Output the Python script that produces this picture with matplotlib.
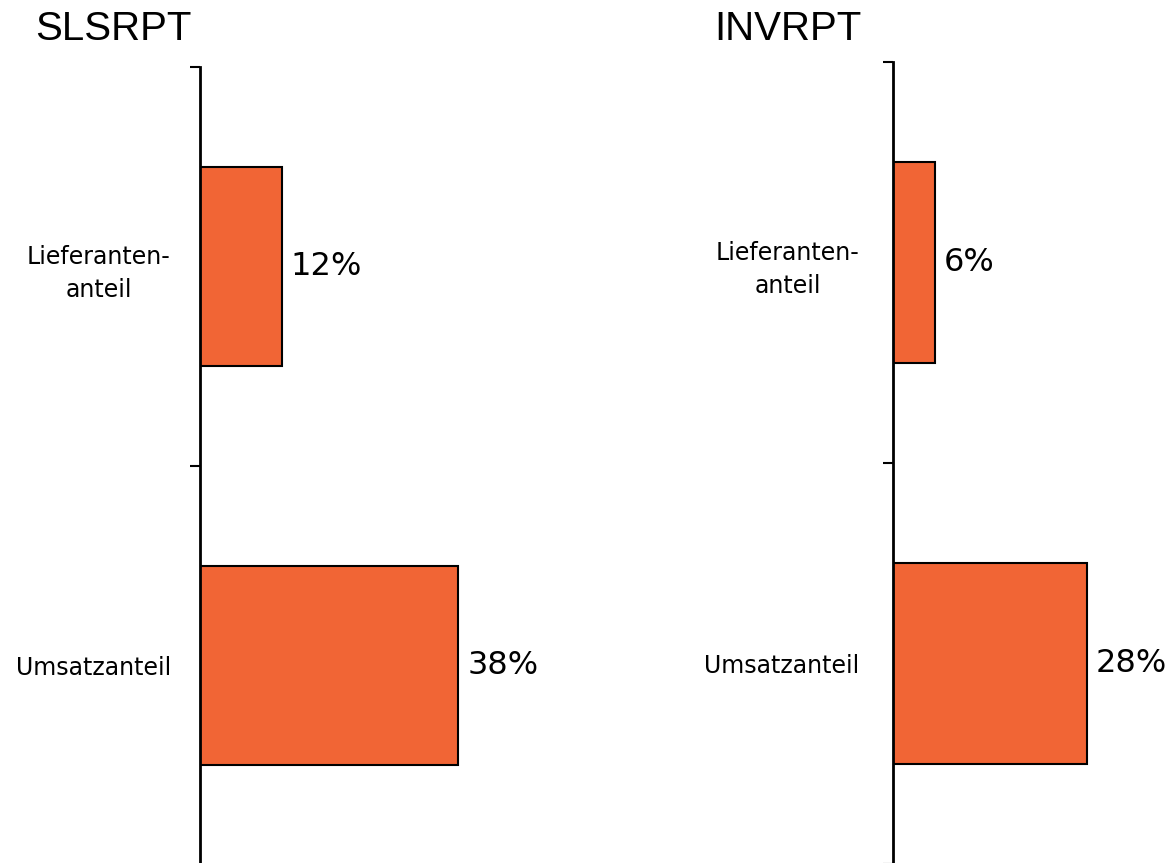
import matplotlib.pyplot as plt

# data
categories = ['Umsatzanteil', 'Lieferanten-\nanteil']
slsrpt_values = [38, 12]
invrpt_values = [28, 6]
titles = ['SLSRPT', 'INVRPT']

bar_color = '#F16535'
W, H = 1175, 863

fig = plt.figure(figsize=(W / 100, H / 100), dpi=100)


def panel(rect, values, title, title_x, label_pad):
    ax = fig.add_axes(rect)
    ypos = list(range(len(categories)))
    ax.barh(ypos, values, height=0.5, color=bar_color, edgecolor='black', linewidth=1.5)
    ax.set_ylim(-0.5, len(categories) - 0.5)
    ax.set_xlim(0, 40)

    # category labels without tick marks, ticks on the boundaries
    ax.set_yticks(ypos)
    ax.set_yticklabels(categories, fontsize=17, family='DejaVu Sans',
                       multialignment='center', linespacing=1.45)
    ax.tick_params(axis='y', which='major', length=0, pad=label_pad)
    ax.set_yticks([y + 0.5 for y in range(-1, len(categories))], minor=True)
    ax.tick_params(axis='y', which='minor', length=7, width=1.5, direction='out')

    ax.set_xticks([])
    for s in ['top', 'right', 'bottom']:
        ax.spines[s].set_visible(False)
    ax.spines['left'].set_linewidth(2)

    for y, v in zip(ypos, values):
        ax.annotate(f'{v}%', xy=(v, y), xytext=(9, 0), textcoords='offset pixels',
                    va='center', ha='left', fontsize=23, family='DejaVu Sans')

    fig.text(title_x / W, 1 - 40 / H, title, fontsize=29, family='Liberation Sans',
             va='baseline', ha='left')
    return ax


# left panel: axis at x=200, top at y=67
sc_l = 6.8
panel([200 / W, -2 / H, 40 * sc_l / W, 798 / H], slsrpt_values, titles[0], 35, 21)

# right panel: axis at x=893, top at y=62
sc_r = 6.93
panel([893 / W, -1 / H, 40 * sc_r / W, 802 / H], invrpt_values, titles[1], 714, 24)

fig.savefig('out.png', dpi=100)
